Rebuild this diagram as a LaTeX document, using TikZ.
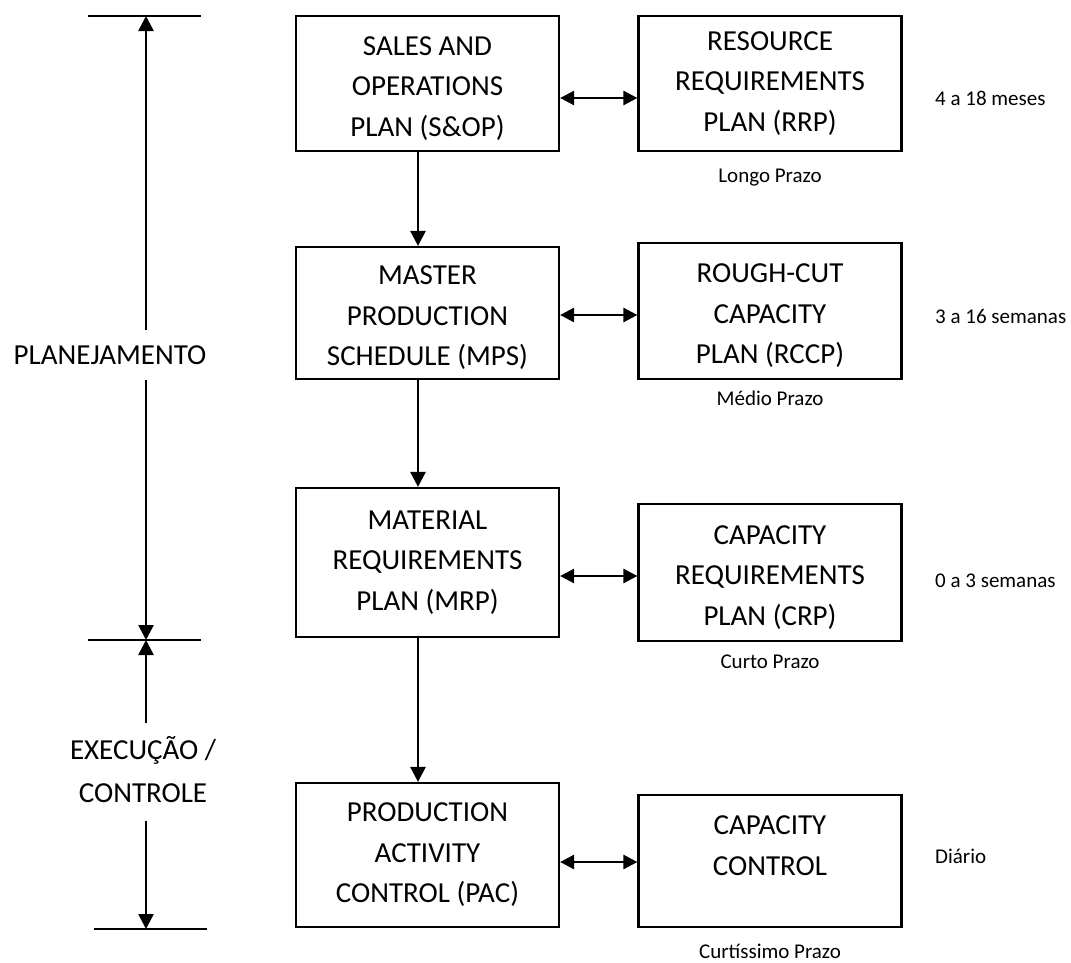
\documentclass[tikz,border=0pt]{standalone}
\usepackage{fontspec}
\setmainfont{Carlito}
\usetikzlibrary{arrows.meta,calc}

% taller first line, lowers a box's text block a little
\newcommand{\firstline}{\rule{0pt}{28.6pt}}

\tikzset{
  stagebox/.style={draw, line width=2.2pt, minimum width=263pt, inner sep=0pt,
    align=center, font=\fontsize{29}{40.5}\selectfont},
  bigtext/.style={align=center, inner sep=0pt, font=\fontsize{29}{43}\selectfont},
  smalltext/.style={inner sep=0pt, font=\fontsize{21}{25}\selectfont},
  flow/.style={line width=2.6pt, -{Triangle[length=15pt,width=15pt]}},
  link/.style={line width=2.6pt, {Triangle[length=14pt,width=14pt]}-{Triangle[length=14pt,width=14pt]}},
  tick/.style={line width=1.8pt}
}

\begin{document}
\begin{tikzpicture}[x=1pt,y=-1pt]
\useasboundingbox (0,0) rectangle (1071,962);

% planning levels (left column)
\node[stagebox, minimum height=135pt] (sop) at (427.5,83.5) {\firstline SALES AND\\OPERATIONS\\PLAN (S\&OP)};
\node[stagebox, minimum height=132pt] (mps) at (427.5,313) {\firstline MASTER\\PRODUCTION\\SCHEDULE (MPS)};
\node[stagebox, minimum height=149pt] (mrp) at (427.5,562.5) {MATERIAL\\REQUIREMENTS\\PLAN (MRP)};
\node[stagebox, minimum height=144pt] (pac) at (427.5,855) {PRODUCTION\\ACTIVITY\\CONTROL (PAC)};

% capacity levels (right column)
\node[stagebox, minimum height=135pt] (rrp) at (770,83.5) {RESOURCE\\REQUIREMENTS\\PLAN (RRP)};
\node[stagebox, minimum height=136pt] (rccp) at (770,311) {\firstline ROUGH-CUT\\CAPACITY\\PLAN (RCCP)};
\node[stagebox, minimum height=137pt] (crp) at (770,572.5) {\firstline CAPACITY\\REQUIREMENTS\\PLAN (CRP)};
\node[stagebox, minimum height=132pt] (cc) at (770,861) {\firstline CAPACITY\\CONTROL\\\mbox{}};

% horizon labels
\node[smalltext, anchor=base] (longo) at (770,182) {Longo Prazo};
\node[smalltext, anchor=base] (medio) at (770,405) {Médio Prazo};
\node[smalltext, anchor=base] (curto) at (770,668) {Curto Prazo};
\node[smalltext, anchor=base] (curtissimo) at (770,958) {Curtíssimo Prazo};

\node[smalltext, anchor=base west] (h1) at (935,105) {4 a 18 meses};
\node[smalltext, anchor=base west] (h2) at (935,323) {3 a 16 semanas};
\node[smalltext, anchor=base west] (h3) at (935,587) {0 a 3 semanas};
\node[smalltext, anchor=base west] (h4) at (935,863) {Diário};

% downward flow
\draw[flow] ([xshift=-9.5pt]sop.south) -- ([xshift=-9.5pt]mps.north);
\draw[flow] ([xshift=-9.5pt]mps.south) -- ([xshift=-9.5pt]mrp.north);
\draw[flow] ([xshift=-9.5pt]mrp.south) -- ([xshift=-9.5pt]pac.north);

% two-way links
\draw[link] ([yshift=-14.5pt]sop.east) -- ([yshift=-14.5pt]rrp.west);
\draw[link] ([yshift=-2pt]mps.east) -- ([yshift=-4pt]rccp.west);
\draw[link] ([yshift=-13.5pt]mrp.east) -- ([yshift=-3.5pt]crp.west);
\draw[link] ([yshift=-7pt]pac.east) -- ([yshift=-1pt]cc.west);

% phase scale on the left
\node[bigtext] (plan) at (110,355) {PLANEJAMENTO};
\node[bigtext, anchor=base] (exec) at (143,802) {EXECUÇÃO /\\CONTROLE};

\coordinate (t0) at (146,16);
\coordinate (t1) at (146,640);
\coordinate (t2) at (146,929);
\coordinate (p0) at (146,330);
\coordinate (p1) at (146,380);
\coordinate (e0) at (146,723);
\coordinate (e1) at (146,821);

\draw[tick] (88,16) -- (201,16);
\draw[tick] (88,640) -- (201,640);
\draw[tick] (94,929) -- (207,929);

\draw[flow] (p0) -- (t0);
\draw[flow] (p1) -- (t1);
\draw[flow] (e0) -- (t1);
\draw[flow] (e1) -- (t2);
\end{tikzpicture}
\end{document}
